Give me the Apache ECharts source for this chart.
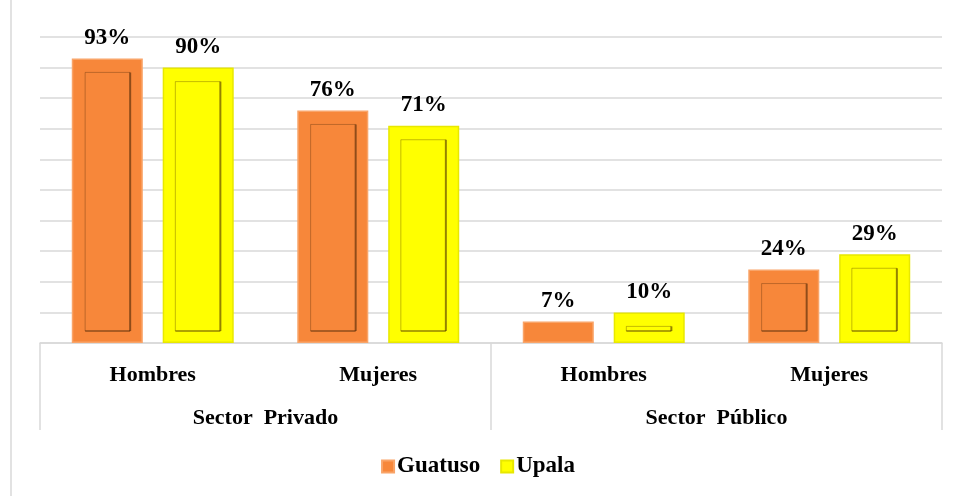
<!DOCTYPE html>
<html>
<head>
<meta charset="utf-8">
<script src="https://cdn.jsdelivr.net/npm/echarts@6/dist/echarts.min.js"></script>
<style>
  html, body { margin: 0; padding: 0; background: #fff; }
  #chart { width: 956px; height: 496px; }
</style>
</head>
<body>
<div id="chart"></div>
<script>
const categories = ['Hombres', 'Mujeres', 'Hombres', 'Mujeres']
const sectors = ['Sector  Privado', 'Sector  Público']
const guatuso = [93, 76, 7, 24]
const upala = [90, 71, 10, 29]
const seriesNames = ['Guatuso', 'Upala']
const colors = ['#F7873A', '#FFFF00']
const edgeColors = ['#F9A468', '#E8E800']

const font = '"Liberation Serif", "Times New Roman", serif'

// bevel drawn on top of each bar (inner panel with shaded edges)
function bevel(sign, color) {
  return function (params, api) {
    const idx = api.value(0)
    const top = api.coord([idx, api.value(1)])
    const base = api.coord([idx, 0])
    const band = api.size([1, 0])[0]
    const w = band * 0.315
    const cx = top[0] + sign * band * 0.2
    const x0 = cx - w / 2
    const h = base[1] - top[1]
    const ih = h - 26
    if (ih <= 0) return { type: 'group', children: [] }
    const ix = x0 + 13, iy = top[1] + 14, iw = w - 26
    const dark = 'rgba(60,30,0,0.55)'
    const mid = 'rgba(60,30,0,0.3)'
    return {
      type: 'group',
      children: [
        { type: 'rect', shape: { x: ix, y: iy, width: iw, height: ih }, style: { fill: color } },
        { type: 'line', shape: { x1: ix, y1: iy, x2: ix + iw, y2: iy }, style: { stroke: mid, lineWidth: 1 } },
        { type: 'line', shape: { x1: ix, y1: iy, x2: ix, y2: iy + ih }, style: { stroke: mid, lineWidth: 1 } },
        { type: 'line', shape: { x1: ix + iw, y1: iy, x2: ix + iw, y2: iy + ih }, style: { stroke: dark, lineWidth: 2 } },
        { type: 'line', shape: { x1: ix, y1: iy + ih, x2: ix + iw, y2: iy + ih }, style: { stroke: dark, lineWidth: 1.5 } }
      ]
    }
  }
}

const chart = echarts.init(document.getElementById('chart'))
chart.setOption({
  animation: false,
  textStyle: { fontFamily: font },
  graphic: [{ type: 'line', shape: { x1: 11, y1: 0, x2: 11, y2: 496 }, style: { stroke: '#D9D9D9', lineWidth: 1.5 } }],
  grid: { left: 40, right: 14, top: 37, bottom: 153 },
  legend: {
    bottom: 13, left: 'center', itemWidth: 12, itemHeight: 12, itemGap: 20,
    icon: 'rect',
    textStyle: { fontFamily: font, fontSize: 23, fontWeight: 'bold', color: '#000', padding: [0, 0, 0, -2] },
    data: seriesNames
  },
  xAxis: [
    {
      type: 'category', data: categories,
      axisLine: { show: false }, axisTick: { show: false },
      axisLabel: { margin: 21, fontFamily: font, fontSize: 22, fontWeight: 'bold', color: '#000' }
    },
    {
      type: 'category', data: sectors, position: 'bottom',
      axisLine: { show: true, lineStyle: { color: '#D9D9D9', width: 1.5 } },
      axisTick: { show: true, length: 87, lineStyle: { color: '#D9D9D9', width: 1.5 } },
      axisLabel: { margin: 64, fontFamily: font, fontSize: 22, fontWeight: 'bold', color: '#000' }
    }
  ],
  yAxis: {
    type: 'value', min: 0, max: 100, interval: 10,
    axisLabel: { show: false }, axisLine: { show: false }, axisTick: { show: false },
    splitLine: { lineStyle: { color: '#D9D9D9', width: 1.5 } }
  },
  series: [
    ...[guatuso, upala].map((d, i) => ({
      name: seriesNames[i], type: 'bar', data: d, xAxisIndex: 0,
      barWidth: '31.5%', barGap: '28%',
      itemStyle: { color: colors[i], borderColor: edgeColors[i], borderWidth: 1.5 },
      label: {
        show: true, position: 'top', distance: 9, formatter: '{c}%',
        fontFamily: font, fontSize: 23, fontWeight: 'bold', color: '#000'
      }
    })),
    ...[guatuso, upala].map((d, i) => ({
      type: 'custom', xAxisIndex: 0, silent: true, z: 3,
      data: d.map((v, k) => [k, v]),
      renderItem: bevel(i === 0 ? -1 : 1, colors[i])
    }))
  ]
})
</script>
</body>
</html>
